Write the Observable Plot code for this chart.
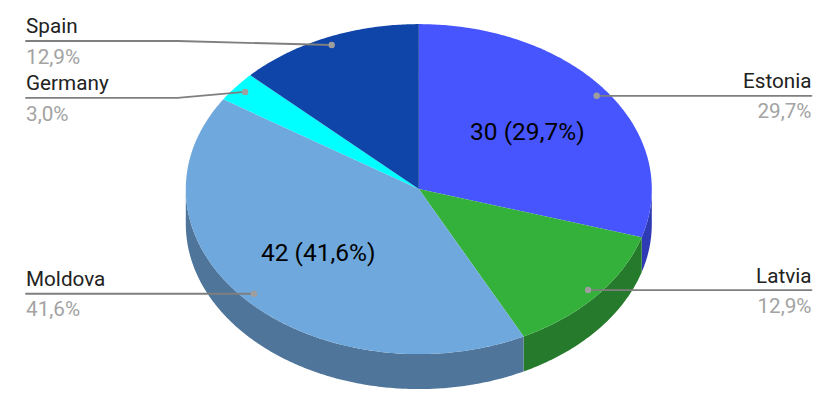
<!DOCTYPE html>
<html>
<head>
<meta charset="utf-8">
<style>html,body{margin:0;padding:0;background:#fff}svg{display:block}</style>
<script src="https://cdn.jsdelivr.net/npm/d3@7"></script>
<script src="https://cdn.jsdelivr.net/npm/@observablehq/plot@0.6"></script>
</head>
<body>
<div id="chart"></div>
<script>
const categories = ["Estonia", "Latvia", "Moldova", "Germany", "Spain"];
const values = [30, 13, 42, 3, 13];
const topColors = ["#4755ff", "#33b13a", "#6fa8dc", "#00ffff", "#0f44a8"];
const wallColors = ["#2f3bb5", "#267a2b", "#4f759a", "#00b5b5", "#0b3078"];
const inlineLabels = ["Estonia", "Moldova"];

// Chart geometry, kept apart from the data
const cx = 418.3, cy = 188.6, rx = 233, ry = 165, depth = 35;
const leaderLayout = {
  Estonia: {side: "right", lineDy: 0},
  Latvia:  {side: "right", lineDy: 0},
  Moldova: {side: "left",  lineDy: 0},
  Germany: {side: "left",  lineDy: 6, elbow: 177},
  Spain:   {side: "left",  lineDy: -4, elbow: 177}
};
const leftEdge = 25.5, rightEdge = 811;

const total = d3.sum(values);
const pct = v => (v / total * 100).toFixed(1).replace(".", ",") + "%";
const px = (a, r = 1) => cx + rx * r * Math.sin(a);
const py = (a, r = 1) => cy - ry * r * Math.cos(a);
const TAU = Math.PI * 2;

let acc = 0;
const slices = categories.map((name, i) => {
  const a0 = acc / total * TAU;
  acc += values[i];
  const a1 = acc / total * TAU;
  return {name, value: values[i], a0, a1, mid: (a0 + a1) / 2, top: topColors[i], wall: wallColors[i]};
});

const arc = (a0, a1) => {
  const n = Math.max(2, Math.ceil((a1 - a0) / 0.01));
  return d3.range(n + 1).map(k => a0 + (a1 - a0) * k / n);
};

const topPts = slices.flatMap(s => [
  {key: s.name, color: s.top, x: cx, y: cy},
  ...arc(s.a0, s.a1).map(a => ({key: s.name, color: s.top, x: px(a), y: py(a)}))
]);

const wallPts = slices.flatMap(s => {
  const lo = Math.max(s.a0, Math.PI / 2), hi = Math.min(s.a1, Math.PI * 1.5);
  if (hi <= lo) return [];
  const as = arc(lo, hi);
  return [
    ...as.map(a => ({key: s.name, color: s.wall, x: px(a), y: py(a)})),
    ...as.slice().reverse().map(a => ({key: s.name, color: s.wall, x: px(a), y: py(a) + depth}))
  ];
});

const leaderPts = [], dots = [], nameLabels = [], pctLabels = [];
for (const s of slices) {
  const l = leaderLayout[s.name];
  const ax = px(s.mid, 0.95), ay = py(s.mid, 0.95);
  const ly = ay + l.lineDy;
  const ex = l.side === "left" ? leftEdge : rightEdge;
  leaderPts.push({key: s.name, x: ex, y: ly});
  if (l.elbow) leaderPts.push({key: s.name, x: l.elbow, y: ly});
  leaderPts.push({key: s.name, x: ax, y: ay});
  dots.push({x: ax, y: ay});
  const anchor = l.side === "left" ? "start" : "end";
  nameLabels.push({x: ex, y: ly - 7.5, text: s.name, anchor});
  pctLabels.push({x: ex, y: ly + 8, text: pct(s.value), anchor});
}

const inline = slices.filter(s => inlineLabels.includes(s.name)).map(s => ({
  x: px(s.mid, 0.58), y: py(s.mid, 0.58), text: `${s.value} (${pct(s.value)})`
}));

const font = "Roboto";
const plot = Plot.plot({
  width: 838, height: 408,
  margin: 0,
  style: {background: "#fff", fontFamily: font},
  x: {type: "linear", domain: [0, 838], range: [0, 838], axis: null},
  y: {type: "linear", domain: [0, 408], range: [0, 408], axis: null},
  color: {type: "identity"},
  marks: [
    Plot.line(wallPts, {x: "x", y: "y", z: "key", fill: "color", stroke: null}),
    Plot.line(topPts, {x: "x", y: "y", z: "key", fill: "color", stroke: null}),
    Plot.line(leaderPts, {x: "x", y: "y", z: "key", stroke: "#7f7f7f", strokeWidth: 1.8, curve: "linear"}),
    Plot.dot(dots, {x: "x", y: "y", r: 3.2, fill: "#9e9e9e", stroke: null}),
    Plot.text(nameLabels.filter(d => d.anchor === "start"), {x: "x", y: "y", text: "text", textAnchor: "start", lineAnchor: "bottom", fontSize: 20.7, fill: "#222"}),
    Plot.text(nameLabels.filter(d => d.anchor === "end"), {x: "x", y: "y", text: "text", textAnchor: "end", lineAnchor: "bottom", fontSize: 20.7, fill: "#222"}),
    Plot.text(pctLabels.filter(d => d.anchor === "start"), {x: "x", y: "y", text: "text", textAnchor: "start", lineAnchor: "top", fontSize: 20.7, fill: "#a3a3a3"}),
    Plot.text(pctLabels.filter(d => d.anchor === "end"), {x: "x", y: "y", text: "text", textAnchor: "end", lineAnchor: "top", fontSize: 20.7, fill: "#a3a3a3"}),
    Plot.text(inline, {x: "x", y: "y", text: "text", textAnchor: "middle", lineAnchor: "middle", fontSize: 24.5, fill: "#000"})
  ]
});
document.getElementById("chart").appendChild(plot);
</script>
</body>
</html>
